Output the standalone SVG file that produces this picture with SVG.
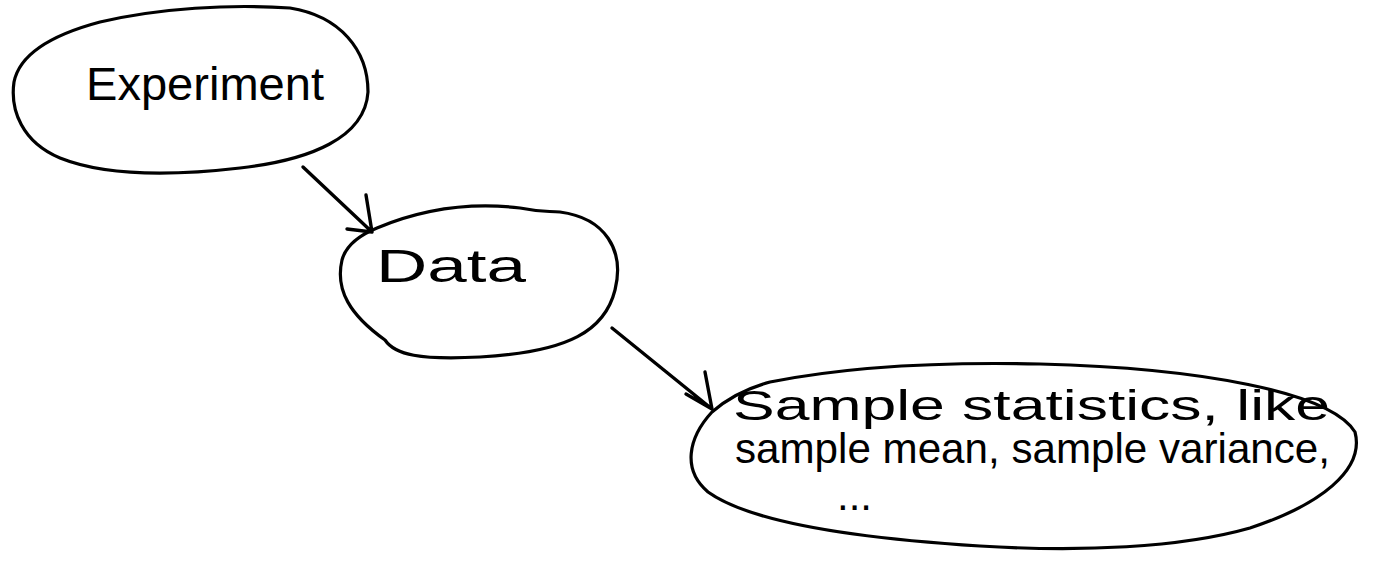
<svg xmlns="http://www.w3.org/2000/svg" width="1397" height="561" viewBox="0 0 1397 561">
<style>
.shape{fill:none;stroke:#000;stroke-width:3.2;stroke-linecap:round;stroke-linejoin:round}
.edge{fill:none;stroke:#000;stroke-width:3.4;stroke-linecap:round;stroke-linejoin:round}
.lbl{font-family:"Liberation Sans",Arial,sans-serif;fill:#000}
</style>
<rect width="1397" height="561" fill="#fff"/>
<g id="experiment">
<path class="shape" d="M100,22 C160,8 230,4 290,8 C340,16 368,50 368,92 C365,138 310,160 240,168 C180,175 110,178 60,158 C22,142 10,110 14,82 C20,52 55,34 100,22 Z"/>
<text class="lbl" x="86" y="100" font-size="46" textLength="238" lengthAdjust="spacingAndGlyphs">Experiment</text>
</g>
<g id="data">
<path class="shape" d="M377,228 C420,210 470,202 520,208 C540,212 545,211 560,212 C605,218 625,250 615,290 C605,330 570,352 480,357 C420,360 395,355 385,340 C350,315 335,290 342,260 C346,245 360,235 377,228 Z"/>
<text class="lbl" x="376" y="282" font-size="46" textLength="150" lengthAdjust="spacingAndGlyphs">Data</text>
</g>
<g id="stats">
<path class="shape" d="M770,382 C850,366 950,362 1040,364 C1200,368 1330,392 1355,432 C1365,470 1320,505 1250,528 C1180,548 1080,552 980,546 C850,538 750,522 708,492 C682,470 688,438 712,412 C728,398 748,388 770,382 Z"/>
<text class="lbl" font-size="42">
<tspan x="733" y="420" textLength="597" lengthAdjust="spacingAndGlyphs">Sample statistics, like</tspan>
<tspan x="735" y="463" textLength="595" lengthAdjust="spacingAndGlyphs">sample mean, sample variance,</tspan>
<tspan x="837" y="510">...</tspan>
</text>
</g>
<g id="connectors">
<path class="edge" d="M303,167 L372,232 M366,195 L372,232 M347,229 L372,232"/>
<path class="edge" d="M612,328 L712,409 M705,372 L712,409 M686,394 L712,409"/>
</g>
</svg>
